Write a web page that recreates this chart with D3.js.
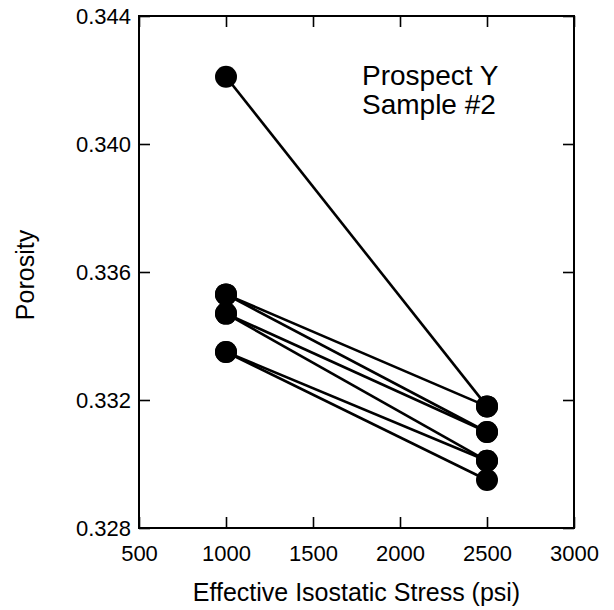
<!DOCTYPE html>
<html lang="en">
<head>
  <meta charset="UTF-8">
  <title>Porosity vs Effective Isostatic Stress</title>
  <script src="https://d3js.org/d3.v7.min.js"></script>
  <style>
    body { margin: 0; background: #fff; }
    text { font-family: "Liberation Sans", Arial, Helvetica, sans-serif; fill: #000; }
  </style>
</head>
<body>
  <svg width="614" height="610"></svg>

  <script>
    // Stress levels (psi) and porosity measured at each, one entry per line
    const stressLevels = [1000, 2500];
    const porosityAt1000 = [0.3421, 0.3353, 0.3353, 0.3347, 0.3347, 0.3335, 0.3335];
    const porosityAt2500 = [0.3318, 0.3318, 0.3310, 0.3310, 0.3301, 0.3301, 0.3295];

    const xTicks = [500, 1000, 1500, 2000, 2500, 3000];
    const yTicks = [0.328, 0.332, 0.336, 0.340, 0.344];
    const noteLines = ["Prospect Y", "Sample #2"];

    const data = porosityAt1000.map((p, i) => [
      { stress: stressLevels[0], porosity: p },
      { stress: stressLevels[1], porosity: porosityAt2500[i] }
    ]);

    const svg = d3.select("svg"),
          margin = { top: 16, right: 40, bottom: 82, left: 139 },
          width = +svg.attr("width") - margin.left - margin.right,
          height = +svg.attr("height") - margin.top - margin.bottom,
          g = svg.append("g").attr("transform", "translate(" + margin.left + "," + margin.top + ")");

    const x = d3.scaleLinear().domain([500, 3000]).range([0, width]),
          y = d3.scaleLinear().domain([0.328, 0.344]).range([height, 0]);

    const tick = 11;

    // Axes with inward ticks
    const xAxis = g.append("g")
      .attr("transform", "translate(0," + height + ")")
      .call(d3.axisBottom(x).tickValues(xTicks).tickFormat(d3.format("d"))
        .tickSizeInner(-tick).tickSizeOuter(0).tickPadding(17));
    const yAxis = g.append("g")
      .call(d3.axisLeft(y).tickValues(yTicks).tickFormat(d3.format(".3f"))
        .tickSizeInner(-tick).tickSizeOuter(0).tickPadding(8));
    g.append("g")
      .call(d3.axisTop(x).tickValues(xTicks).tickFormat("").tickSizeInner(-tick).tickSizeOuter(0));
    g.append("g")
      .attr("transform", "translate(" + width + ",0)")
      .call(d3.axisRight(y).tickValues(yTicks).tickFormat("").tickSizeInner(-tick).tickSizeOuter(0));

    g.selectAll(".domain").remove();
    g.selectAll(".tick line").attr("stroke", "#000").attr("stroke-width", 1.6);
    g.selectAll(".tick text").style("font-size", "22px").attr("fill", "#000");

    // Frame
    g.append("rect")
      .attr("width", width)
      .attr("height", height)
      .attr("fill", "none")
      .attr("stroke", "#000")
      .attr("stroke-width", 2);

    // Lines
    const line = d3.line()
      .x(d => x(d.stress))
      .y(d => y(d.porosity));

    g.selectAll(".pair")
      .data(data)
      .enter().append("path")
      .attr("class", "pair")
      .attr("fill", "none")
      .attr("stroke", "#000")
      .attr("stroke-width", 2.6)
      .attr("d", line);

    // Points
    g.selectAll(".pt")
      .data(data.flat())
      .enter().append("circle")
      .attr("class", "pt")
      .attr("cx", d => x(d.stress))
      .attr("cy", d => y(d.porosity))
      .attr("r", 11)
      .attr("fill", "#000");

    // Note
    g.append("text")
      .attr("x", 223)
      .attr("y", 69)
      .style("font-size", "28px")
      .selectAll("tspan")
      .data(noteLines)
      .enter().append("tspan")
      .attr("x", 223)
      .attr("dy", (d, i) => i ? 29 : 0)
      .text(d => d);

    // Axis titles
    svg.append("text")
      .attr("x", margin.left + width / 2)
      .attr("y", 601)
      .attr("text-anchor", "middle")
      .style("font-size", "25px")
      .text("Effective Isostatic Stress (psi)");

    svg.append("text")
      .attr("transform", "translate(34," + (margin.top + 259) + ") rotate(-90)")
      .attr("text-anchor", "middle")
      .style("font-size", "25px")
      .text("Porosity");
  </script>
</body>
</html>
